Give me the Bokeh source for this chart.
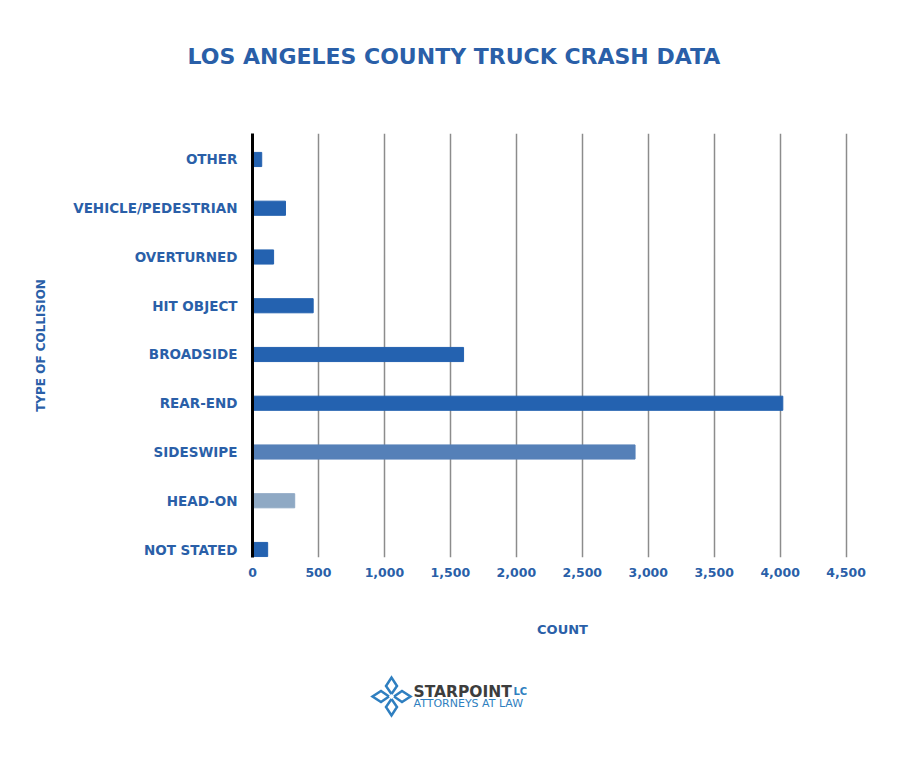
from bokeh.plotting import figure
from bokeh.layouts import column
from bokeh.models import Range1d, FixedTicker, NumeralTickFormatter, ColumnDataSource, Label
from bokeh.embed import file_html
from bokeh.resources import INLINE

# ---- data ----
categories = ["NOT STATED", "HEAD-ON", "SIDESWIPE", "REAR-END", "BROADSIDE",
              "HIT OBJECT", "OVERTURNED", "VEHICLE/PEDESTRIAN", "OTHER"]
counts = [115, 320, 2900, 4020, 1600, 460, 160, 250, 70]
bar_colors = ["#2462b0", "#8fa9c4", "#5580b8", "#2462b0", "#2462b0",
              "#2462b0", "#2462b0", "#2462b0", "#2462b0"]
x_ticks = [0, 500, 1000, 1500, 2000, 2500, 3000, 3500, 4000, 4500]
title_text = "LOS ANGELES COUNTY TRUCK CRASH DATA"
x_label = "COUNT"
y_label = "TYPE OF COLLISION"

TXT = "#2a5fa8"
FONT = "DejaVu Sans"
W = 900
BL, BR = 252, 28          # frame left / right borders (pixels)
FX0, FX1 = BL, W - BR     # frame span in page pixels


def blank(height, top=0):
    f = figure(width=W, height=height, x_range=Range1d(FX0, FX1), y_range=Range1d(0, height - top),
               output_backend="svg", toolbar_location=None,
               min_border_left=BL, min_border_right=BR, min_border_top=top, min_border_bottom=0,
               outline_line_color=None)
    f.axis.visible = False
    f.grid.visible = False
    return f


# ---- header with title ----
hdr = blank(110, top=73)
hdr.title.text = title_text
hdr.title.align = "left"
hdr.title.offset = -65
hdr.title.text_font = FONT
hdr.title.text_font_style = "bold"
hdr.title.text_font_size = "22px"
hdr.title.text_color = TXT

# ---- main chart ----
ypos = list(range(len(categories)))
src = ColumnDataSource(dict(y=ypos, right=counts, color=bar_colors, cat=categories))

p = figure(width=W, height=540, x_range=Range1d(0, 4700), y_range=Range1d(-0.164, 8.533),
           output_backend="svg", toolbar_location=None,
           min_border_left=BL, min_border_right=BR, min_border_top=23, min_border_bottom=93,
           outline_line_color=None)
p.hbar(y="y", left=0, right="right", height=0.29, color="color", source=src)

p.xaxis.ticker = FixedTicker(ticks=x_ticks)
p.xaxis.formatter = NumeralTickFormatter(format="0,0")
p.xaxis.axis_line_color = None
p.xaxis.major_tick_line_color = None
p.xaxis.minor_tick_line_color = None
p.xaxis.major_label_standoff = 4
p.xaxis.major_label_text_font = FONT
p.xaxis.major_label_text_font_style = "bold"
p.xaxis.major_label_text_font_size = "12.5px"
p.xaxis.major_label_text_color = TXT
p.xaxis.axis_label = x_label
p.xaxis.axis_label_standoff = 42
p.xaxis.axis_label_text_font = FONT
p.xaxis.axis_label_text_font_style = "bold"
p.xaxis.axis_label_text_font_size = "13px"
p.xaxis.axis_label_text_color = TXT

p.yaxis.ticker = FixedTicker(ticks=ypos)
p.yaxis.major_label_overrides = {i: c for i, c in enumerate(categories)}
p.yaxis.axis_line_color = "black"
p.yaxis.axis_line_width = 3
p.yaxis.major_tick_line_color = None
p.yaxis.minor_tick_line_color = None
p.yaxis.major_label_standoff = 9
p.yaxis.major_label_text_font = FONT
p.yaxis.major_label_text_font_style = "bold"
p.yaxis.major_label_text_font_size = "13.5px"
p.yaxis.major_label_text_color = TXT
p.yaxis.axis_label = y_label
p.yaxis.axis_label_standoff = 22
p.yaxis.axis_label_text_font = FONT
p.yaxis.axis_label_text_font_style = "bold"
p.yaxis.axis_label_text_font_size = "12px"
p.yaxis.axis_label_text_color = TXT

p.xgrid.ticker = FixedTicker(ticks=x_ticks)
p.xgrid.grid_line_color = "#8c8c8c"
p.xgrid.grid_line_width = 1.5
p.ygrid.grid_line_color = None

# ---- footer with logo ----
ftr = blank(100)
cx, cy = 391, 54
inner, outer, half, mid = 2.5, 19, 5.5, 10.5
xs = [
    [cx, cx + half, cx, cx - half, cx],
    [cx, cx + half, cx, cx - half, cx],
    [cx + inner, cx + mid, cx + outer, cx + mid, cx + inner],
    [cx - inner, cx - mid, cx - outer, cx - mid, cx - inner],
]
ys = [
    [cy + inner, cy + mid, cy + outer, cy + mid, cy + inner],
    [cy - inner, cy - mid, cy - outer, cy - mid, cy - inner],
    [cy, cy + half, cy, cy - half, cy],
    [cy, cy + half, cy, cy - half, cy],
]
ftr.multi_line(xs=xs, ys=ys, line_color="#2f7fc0", line_width=2.5, line_join="miter")
ftr.add_layout(Label(x=413, y=59, text="STARPOINT", text_font=FONT, text_font_style="bold",
                     text_font_size="15.5px", text_color="#3d3d3d", text_baseline="alphabetic"))
ftr.add_layout(Label(x=513, y=59, text="LC", text_font=FONT, text_font_style="bold",
                     text_font_size="10px", text_color="#2f7fc0", text_baseline="alphabetic"))
ftr.add_layout(Label(x=413, y=47, text="ATTORNEYS AT LAW", text_font=FONT,
                     text_font_size="11px", text_color="#2f7fc0", text_baseline="alphabetic"))

layout = column(hdr, p, ftr, spacing=0)
open("out.html", "w").write(file_html(layout, INLINE))
